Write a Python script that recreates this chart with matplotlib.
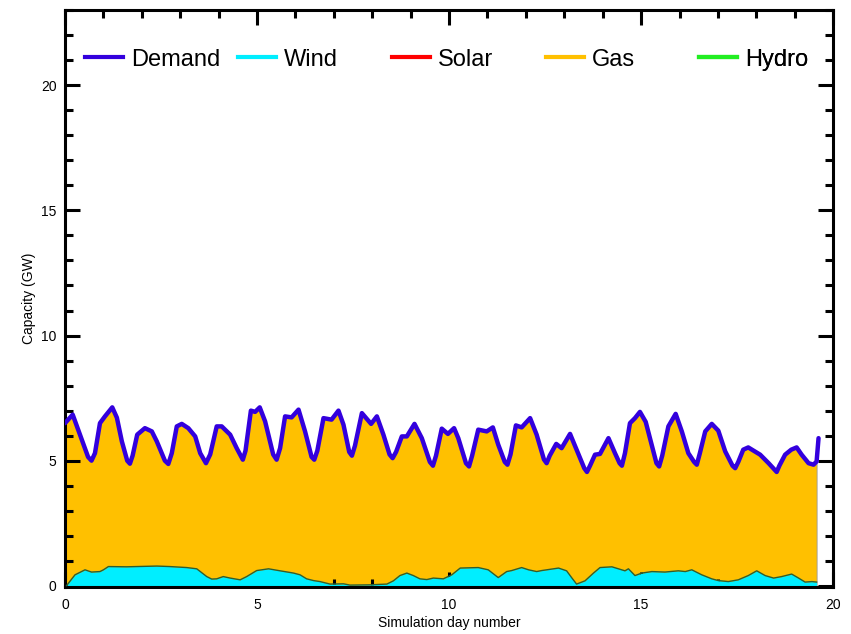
import numpy as np
import matplotlib
matplotlib.use("Agg")
import matplotlib.pyplot as plt
from matplotlib.ticker import MultipleLocator

plt.rcParams['font.family'] = ['Liberation Sans', 'DejaVu Sans']

# demand (GW) against simulation day
demand_day = [0.0, 0.2, 0.39, 0.6, 0.69, 0.78, 0.91, 1.04, 1.23, 1.35, 1.48, 1.62, 1.69,
              1.76, 1.88, 2.08, 2.26, 2.39, 2.6, 2.69, 2.78, 2.91, 3.04, 3.21, 3.39,
              3.52, 3.67, 3.78, 3.95, 4.08, 4.3, 4.47, 4.63, 4.7, 4.84, 4.95, 5.07,
              5.21, 5.42, 5.51, 5.6, 5.73, 5.9, 6.08, 6.25, 6.42, 6.49, 6.57,
              6.73, 6.94, 7.12, 7.25, 7.4, 7.47, 7.55, 7.73, 7.97, 8.12, 8.29, 8.45,
              8.53, 8.62, 8.77, 8.9, 9.1, 9.29, 9.5, 9.58, 9.66, 9.81, 9.97, 10.13,
              10.24, 10.44, 10.52, 10.6, 10.76, 10.98, 11.14, 11.28, 11.45, 11.52,
              11.6, 11.74, 11.89, 12.11, 12.28, 12.47, 12.54, 12.62, 12.79, 12.93,
              13.15, 13.32, 13.52, 13.59, 13.67, 13.8, 13.93, 14.15, 14.32, 14.44,
              14.5, 14.58, 14.71, 14.84, 14.97, 15.12, 15.23, 15.4, 15.47, 15.55,
              15.71, 15.9, 16.06, 16.23, 16.38, 16.45, 16.53, 16.67, 16.84, 17.01,
              17.19, 17.38, 17.45, 17.53, 17.66, 17.79, 18.1, 18.32, 18.47, 18.53,
              18.6, 18.75, 18.91, 19.05, 19.18, 19.36, 19.49, 19.57, 19.62]
demand = [6.5, 6.84, 6.04, 5.15, 5.0, 5.3, 6.5, 6.77, 7.13, 6.72, 5.77, 5.0, 4.88,
          5.2, 6.04, 6.3, 6.17, 5.77, 5.0, 4.87, 5.3, 6.37, 6.47, 6.3, 5.97,
          5.3, 4.9, 5.25, 6.37, 6.37, 6.04, 5.5, 5.04, 5.4, 7.0, 6.95, 7.13,
          6.57, 5.25, 5.04, 5.5, 6.77, 6.73, 7.04, 6.17, 5.15, 5.04, 5.4,
          6.7, 6.64, 7.0, 6.44, 5.35, 5.2, 5.6, 6.9, 6.47, 6.77, 6.04, 5.25,
          5.1, 5.35, 5.97, 5.97, 6.47, 5.9, 4.95, 4.8, 5.2, 6.28, 6.07, 6.3,
          5.9, 4.9, 4.77, 5.2, 6.24, 6.17, 6.33, 5.64, 4.95, 4.84, 5.25,
          6.41, 6.33, 6.7, 6.04, 5.05, 4.9, 5.2, 5.67, 5.5, 6.07, 5.44, 4.7,
          4.55, 4.8, 5.24, 5.27, 5.9, 5.3, 4.9, 4.8, 5.3, 6.5, 6.7, 6.95,
          6.55, 5.9, 4.9, 4.77, 5.2, 6.37, 6.87, 6.17, 5.3, 4.95, 4.84, 5.3,
          6.17, 6.47, 6.2, 5.37, 4.8, 4.7, 4.95, 5.44, 5.53, 5.24, 4.9, 4.65,
          4.55, 4.8, 5.24, 5.44, 5.53, 5.24, 4.9, 4.84, 4.97, 5.9]

# wind output (GW)
wind_day = [0.04, 0.26, 0.52, 0.69, 0.91, 1.0, 1.13, 1.6, 2.39, 2.73, 3.17, 3.43,
            3.69, 3.82, 3.95, 4.12, 4.3, 4.56, 4.73, 4.99, 5.3, 5.6, 5.95, 6.12,
            6.29, 6.47, 6.64, 6.9, 7.25, 7.42, 7.94, 8.38, 8.55, 8.72, 8.9, 9.07,
            9.24, 9.42, 9.59, 9.85, 10.07, 10.29, 10.76, 11.02, 11.28, 11.5, 11.63,
            11.89, 12.07, 12.28, 12.41, 12.85, 13.06, 13.2, 13.32, 13.54, 13.76,
            13.93, 14.24, 14.41, 14.58, 14.67, 14.84, 15.02, 15.28, 15.62, 15.97,
            16.15, 16.32, 16.58, 16.84, 17.01, 17.27, 17.53, 17.79, 18.01, 18.23,
            18.45, 18.66, 18.92, 19.1, 19.27, 19.45, 19.57]
wind = [0.01, 0.44, 0.64, 0.55, 0.57, 0.64, 0.77, 0.76, 0.79, 0.77, 0.73, 0.68,
        0.37, 0.27, 0.28, 0.37, 0.31, 0.24, 0.37, 0.61, 0.68, 0.6, 0.51, 0.44,
        0.28, 0.21, 0.17, 0.07, 0.08, 0.03, 0.04, 0.07, 0.2, 0.41, 0.51, 0.41,
        0.28, 0.25, 0.31, 0.28, 0.44, 0.71, 0.73, 0.64, 0.33, 0.57, 0.61,
        0.73, 0.64, 0.57, 0.61, 0.71, 0.6, 0.31, 0.07, 0.2, 0.51,
        0.73, 0.76, 0.68, 0.6, 0.68, 0.41, 0.51, 0.57, 0.55, 0.6,
        0.57, 0.64, 0.44, 0.28, 0.21, 0.17, 0.24, 0.41, 0.6, 0.41,
        0.31, 0.37, 0.47, 0.31, 0.15, 0.17, 0.15]

names = ['Demand', 'Wind', 'Solar', 'Gas', 'Hydro']
colors = ['#3300dd', '#00eeff', '#ff0000', '#ffc000', '#22ee22']

fig = plt.figure(figsize=(8.51, 6.34), dpi=100)
ax = fig.add_axes([0.0764, 0.074, 0.9026, 0.910])

# gas fills up to the demand curve, wind sits on top of it at the bottom
ax.fill_between(demand_day[:-1], 0, demand[:-1], color=colors[3],
                edgecolor='#999999', linewidth=0.6, zorder=1)
ax.fill_between(wind_day, 0, wind, color=colors[1], linewidth=0, zorder=2)
ax.plot(wind_day, wind, color='#2e5e30', lw=1.0, zorder=3)
ax.plot(demand_day, demand, color=colors[0], lw=3.2, zorder=4,
        solid_joinstyle='round', solid_capstyle='round')

ax.set_xlim(0, 20)
ax.set_ylim(-0.05, 23)
ax.xaxis.set_major_locator(MultipleLocator(5))
ax.xaxis.set_minor_locator(MultipleLocator(1))
ax.yaxis.set_major_locator(MultipleLocator(5))
ax.yaxis.set_minor_locator(MultipleLocator(1))
ax.tick_params(which='both', direction='in', top=True, right=True, width=2.2,
               labelsize=10)
ax.tick_params(axis='y', pad=6)
ax.tick_params(axis='x', pad=8)
ax.tick_params(which='major', length=11)
ax.tick_params(which='minor', length=6)
for sp in ax.spines.values():
    sp.set_linewidth(2.2)

ax.set_xlabel('Simulation day number', fontsize=10, labelpad=3)
ax.set_ylabel('Capacity (GW)', fontsize=10, labelpad=4)

# one legend per entry so each column starts at an even spacing
xpos = [0.026, 0.225, 0.426, 0.626, 0.826]
for k in range(5):
    h, = ax.plot([], [], color=colors[k], lw=3.0)
    leg = ax.legend([h], [names[k]], loc='center left',
                    bbox_to_anchor=(xpos[k], 0.914), frameon=False,
                    borderpad=0, borderaxespad=0, handlelength=1.6,
                    handletextpad=0.35, fontsize=17)
    ax.add_artist(leg)

fig.savefig('out.png', dpi=100)
